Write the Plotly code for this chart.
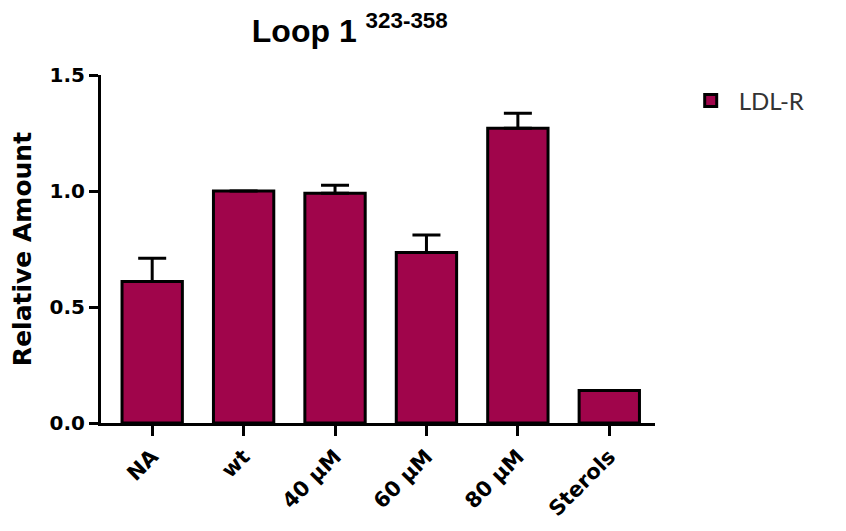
import plotly.graph_objects as go

categories = ["NA", "wt", "40 µM", "60 µM", "80 µM", "Sterols"]
values = [0.61, 1.0, 0.99, 0.735, 1.27, 0.14]
errors_up = [0.10, 0.0, 0.035, 0.075, 0.065, 0.0]
yticks = [0.0, 0.5, 1.0, 1.5]
ytick_text = ["0.0", "0.5", "1.0", "1.5"]

FONT = "DejaVu Sans, Liberation Sans, Arial"

fig = go.Figure()
fig.add_trace(go.Bar(
    x=list(range(len(categories))),
    y=values,
    name="LDL-R",
    marker=dict(color="#A0054B", line=dict(color="black", width=3)),
    width=0.66,
    error_y=dict(type="data", symmetric=False, array=errors_up,
                 arrayminus=[0] * len(values), color="black",
                 thickness=3, width=14),
))

fig.update_layout(
    width=846, height=531,
    paper_bgcolor="white", plot_bgcolor="white",
    margin=dict(l=89, r=199, t=67, b=116),
    title=dict(text="<b>Loop 1 <sup>323-358</sup></b>",
               x=0.404, xanchor="center", y=0.958, yanchor="middle",
               font=dict(family="Liberation Sans, Arial", size=32, color="black")),
    showlegend=True,
    legend=dict(x=1.05, y=0.99, xanchor="left", yanchor="top",
                itemwidth=46,
                font=dict(family="Lato, Open Sans", size=24, color="#333333"),
                bgcolor="rgba(0,0,0,0)"),
)

fig.update_xaxes(
    range=[-0.56, 5.5],
    tickmode="array", tickvals=list(range(len(categories))),
    ticktext=["<b>%s</b>" % c for c in categories],
    tickangle=-45,
    ticks="outside", ticklen=10, tickwidth=3, tickcolor="black",
    showline=True, linecolor="black", linewidth=3,
    showgrid=False, zeroline=False,
    tickfont=dict(family=FONT, size=21, color="black"),
)
fig.update_yaxes(
    range=[0, 1.5],
    tickmode="array", tickvals=yticks,
    ticktext=["<b>%s</b>" % t for t in ytick_text],
    ticks="outside", ticklen=9, tickwidth=3, tickcolor="black",
    showline=True, linecolor="black", linewidth=3,
    showgrid=False, zeroline=False,
    tickfont=dict(family=FONT, size=20, color="black"),
    title=dict(text="<b>Relative Amount</b>", standoff=12,
               font=dict(family=FONT, size=25, color="black")),
)

fig.write_html("out.html")
